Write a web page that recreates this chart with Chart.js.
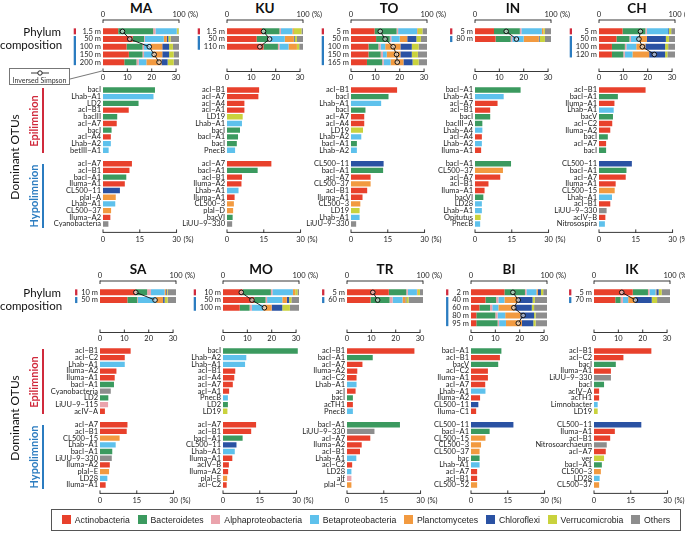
<!DOCTYPE html>
<html><head><meta charset="utf-8">
<script src="https://cdn.jsdelivr.net/npm/chart.js@4.4.1/dist/chart.umd.min.js"></script>
<style>
html,body{margin:0;padding:0;background:#fff;}
body{width:685px;height:534px;position:relative;overflow:hidden;font-family:Lato,"Open Sans",sans-serif;color:#222;}
canvas{position:absolute;}
.abs{position:absolute;white-space:nowrap;}
.title{font-weight:700;font-size:13.5px;text-align:center;width:80px;line-height:14px;color:#111;}
.pc{font-size:11.5px;line-height:13px;text-align:right;width:61px;left:0;color:#111;}
.rot{transform:translate(-50%,-50%) rotate(-90deg);}
#legend{left:51px;top:509px;width:630px;height:22px;border:1px solid #555;display:flex;align-items:center;justify-content:space-around;font-family:"Liberation Sans",Arial,sans-serif;font-size:8.7px;color:#222;box-sizing:border-box;padding:0 6px;}
#legend span.sq{display:inline-block;width:9px;height:9px;margin-right:4px;vertical-align:-1px;}
</style></head><body>
<script>
// ---------- data ----------
const PHYLA = ['Actinobacteria','Bacteroidetes','Alphaproteobacteria','Betaproteobacteria','Planctomycetes','Chloroflexi','Verrucomicrobia','Others'];
const PHYLUM_CODES = ['A','B','a','b','P','C','V','O'];
const PHYLUM_COLORS = ['#e8412c','#3b9a5f','#eaa3ac','#5ec1ec','#f29a40','#2a52a3','#c9d23d','#8d8d8d'];
const COMP_TICKS = [0,100];
const SIMPSON_TICKS = [0,10,20,30];
const OTU_TICKS = [0,15,30];

const MA_depths = ['1.5 m','50 m','100 m','150 m','200 m'];
const MA_comp = [[20,46,3,28,0.5,0,2,0.5],[39,15,1,25,4,2,3,11],[31,21,2,9,15,9,5,8],[34,18,2,11,13,9,6,7],[28,16,3,10,20,8,8,7]];
const MA_simpson = [8,11,19,21,23];
const MA_epi = ['bacI','Lhab−A1','LD2','acI−B1','bacIII','acI−A7','bacI','acI−A4','Lhab−A2','betIII−A1'];
const MA_epiV = [21.2,20.6,14.5,10.5,5.8,5.6,3.5,3.2,3.2,2.3];
const MA_epiP = ['B','b','B','A','B','A','B','A','b','b'];
const MA_hypo = ['acI−A7','acI−B1','bacI−A1','Iluma−A1','CL500−11','plaI−A','Lhab−A1','CL500−37','Iluma−A2','Cyanobacteria'];
const MA_hypoV = [11.8,10.8,9.5,8.9,6.9,5.2,5.0,3.3,3.0,2.2];
const MA_hypoP = ['A','A','B','A','C','P','b','P','A','O'];

const KU_depths = ['1.5 m','50 m','110 m'];
const KU_comp = [[46,23,2,15,2,0,10,2],[39,15,2,20,12,1,3,8],[48,19,2,12,11,0,3,5]];
const KU_simpson = [15,17.5,13.5];
const KU_epi = ['acI−B1','acI−A7','acI−A4','acI−A1','LD19','Lhab−A1','bacI','bacI−A1','bacI','PnecB'];
const KU_epiV = [13.1,12.8,7.1,7.1,6.4,6.1,5.3,4.5,4.0,3.3];
const KU_epiP = ['A','A','A','A','V','b','B','B','B','b'];
const KU_hypo = ['acI−A7','bacI−A1','acI−B1','Iluma−A2','Lhab−A1','Iluma−A1','CL500−3','plaI−D','bacVI','LiUU−9−330'];
const KU_hypoV = [18.1,12.5,6.1,5.9,4.7,3.1,2.8,2.5,2.3,2.1];
const KU_hypoP = ['A','B','A','A','b','A','P','P','B','O'];

const TO_depths = ['5 m','50 m','100 m','150 m','165 m'];
const TO_comp = [[31,29,2,25,1,0,6,6],[33,18,2,11,10,12,6,8],[23,13,3,6,20,15,9,11],[23,16,3,5,18,15,8,12],[21,20,2,9,17,12,8,11]];
const TO_simpson = [12,14,17.3,18.7,19];
const TO_epi = ['acI−B1','bacI','Lhab−A1','bacI','acI−A7','acI−A4','LD19','Lhab−A2','bacI−A1','Lhab−A2'];
const TO_epiV = [18.8,15.3,12.3,5.9,5.4,5.4,4.9,4.2,2.4,2.4];
const TO_epiP = ['A','B','b','B','A','A','V','b','B','b'];
const TO_hypo = ['CL500−11','bacI−A1','acI−A7','CL500−37','acI−B1','Iluma−A1','CL500−3','LD19','Lhab−A1','LiUU−9−330'];
const TO_hypoV = [13.3,13.1,8.0,8.0,6.6,4.7,3.8,3.5,3.5,2.1];
const TO_hypoP = ['C','B','A','P','A','A','P','V','b','O'];

const IN_depths = ['5 m','80 m'];
const IN_comp = [[25,34,2,27,2,0,2,8],[27,20,2,15,20,1,7,8]];
const IN_simpson = [12.8,17];
const IN_epi = ['bacI−A1','Lhab−A1','acI−A7','acI−B1','bacI','bacIII−A','Lhab−A4','acI−A4','Lhab−A2','Iluma−A1'];
const IN_epiV = [18.6,11.7,9.2,6.2,6.2,3.0,3.0,2.8,2.8,2.5];
const IN_epiP = ['B','b','A','A','B','B','b','A','b','A'];
const IN_hypo = ['bacI−A1','CL500−37','acI−A7','acI−B1','Iluma−A1','bacVI','LD28','Lhab−A1','Opitutus','PnecB'];
const IN_hypoV = [14.7,11.4,10.3,5.5,3.9,3.4,2.8,2.8,2.3,2.1];
const IN_hypoP = ['B','P','A','A','A','B','b','b','V','b'];

const CH_depths = ['5 m','50 m','100 m','120 m'];
const CH_comp = [[31,30,2,28,0,1,3,5],[23,17,2,11,10,25,4,8],[17,17,2,13,12,26,4,9],[17,15,2,10,22,21,3,10]];
const CH_simpson = [17,16.4,17.8,22.7];
const CH_epi = ['acI−B1','bacI−A1','Iluma−A1','Lhab−A1','bacV','acI−C2','Iluma−A2','bacI','acI−A7','bacI'];
const CH_epiV = [19.0,7.7,6.3,6.0,5.7,5.4,4.6,3.6,2.9,2.9];
const CH_epiP = ['A','B','A','b','B','A','A','B','A','B'];
const CH_hypo = ['CL500−11','bacI−A1','acI−A7','Iluma−A1','CL500−15','Lhab−A1','acI−B1','LiUU−9−330','acIV−B','Nitrosospira'];
const CH_hypoV = [13.4,11.2,10.9,6.8,6.4,5.3,4.6,3.1,2.6,2.4];
const CH_hypoP = ['C','B','A','A','P','b','A','O','A','b'];

const SA_depths = ['10 m','50 m'];
const SA_comp = [[47,15,5,18,2,1,1,11],[36,13,1,24,9,2,4,11]];
const SA_simpson = [14.7,22.6];
const SA_epi = ['acI−B1','acI−C2','Lhab−A1','Iluma−A2','Iluma−A1','bacI−A1','Cyanobacteria','LD2','LiUU−9−115','acIV−A'];
const SA_epiV = [12.5,10.1,10.1,6.7,6.0,5.7,4.4,3.4,3.3,2.0];
const SA_epiP = ['A','A','b','A','A','B','O','B','a','A'];
const SA_hypo = ['acI−A7','acI−B1','CL500−15','Lhab−A1','bacI−A1','LiUU−9−330','Iluma−A2','plaI−E','LD28','Iluma−A1'];
const SA_hypoV = [11.2,10.9,8.0,6.4,5.0,4.8,4.0,3.7,3.0,2.3];
const SA_hypoP = ['A','A','P','b','B','O','A','P','b','A'];

const MO_depths = ['10 m','50 m','100 m'];
const MO_comp = [[26,37,2,27,3,0,3,2],[41,15,2,20,6,3,3,10],[22,13,3,15,11,14,10,12]];
const MO_simpson = [7.5,11.9,17];
const MO_epi = ['bacI','Lhab−A2','Lhab−A1','acI−B1','acI−A4','acI−A7','acI−A1','PnecB','LD2','LD19'];
const MO_epiV = [30.5,9.5,9.0,5.0,4.6,4.0,2.5,2.0,2.0,1.8];
const MO_epiP = ['B','b','b','A','A','A','A','b','B','V'];
const MO_hypo = ['acI−A7','acI−B1','bacI−A1','CL500−11','Lhab−A1','Iluma−A1','acIV−B','Iluma−A2','plaI−E','acI−C2'];
const MO_hypoV = [13.5,11.5,8.0,5.5,4.8,3.8,2.4,2.1,1.7,1.5];
const MO_hypoP = ['A','A','B','C','b','A','A','A','P','A'];

const TR_depths = ['5 m','60 m'];
const TR_comp = [[55,23,2,12,1,0,3,4],[31,25,4,13,4,1,3,19]];
const TR_simpson = [10.6,12.6];
const TR_epi = ['acI−B1','bacI−A1','acI−A7','Iluma−A2','acI−C2','Lhab−A1','acI','bacI','acTH1','PnecB'];
const TR_epiV = [27.5,10.5,6.3,4.2,3.9,3.9,3.5,2.4,2.4,2.4];
const TR_epiP = ['A','B','A','A','A','b','A','B','A','b'];
const TR_hypo = ['bacI−A1','LiUU−9−330','acI−A7','Iluma−A2','acI−B1','Lhab−A1','acI−C2','LD28','alf','plaI−C'];
const TR_hypoV = [21.6,11.2,9.5,6.0,5.3,3.8,2.1,1.8,1.8,1.8];
const TR_hypoP = ['B','O','A','A','A','b','A','b','a','P'];

const BI_depths = ['2 m','40 m','60 m','80 m','95 m'];
const BI_comp = [[44,27,2,13,2,4,3,5],[19,14,3,8,18,19,3,16],[11,14,3,8,22,22,3,17],[7,25,3,10,20,18,2,15],[7,28,2,9,21,15,3,15]];
const BI_simpson = [17.2,19.4,17.6,21.4,19.4];
const BI_epi = ['bacI−A1','acI−B1','bacV','acI−C2','Iluma−A1','acI−A7','Lhab−A1','Iluma−A2','CL500−11','Iluma−C1'];
const BI_epiV = [12.4,11.8,11.1,6.9,6.9,5.8,5.9,3.7,3.0,2.1];
const BI_epiP = ['B','A','B','A','A','A','b','A','C','A'];
const BI_hypo = ['CL500−11','bacI−A1','CL500−15','CL500−3','CL500−37','bac','Lhab−A1','acI−A7','acI−B1','CL500−52'];
const BI_hypoV = [17.3,7.6,5.9,4.1,3.5,3.5,3.5,2.5,2.5,2.5];
const BI_hypoP = ['C','B','P','P','P','B','b','A','A','P'];

const IK_depths = ['5 m','70 m'];
const IK_comp = [[51,20,2,8,1,3,4,11],[28,7,3,7,9,22,7,17]];
const IK_simpson = [11.4,17];
const IK_epi = ['acI−B1','acI−C2','bacI','Iluma−A1','LiUU−9−330','bacI','acIV−A','acTH1','Limnobacter','LD19'];
const IK_epiV = [23.4,12.0,8.9,6.9,6.9,4.1,2.1,2.1,1.5,1.5];
const IK_epiP = ['A','A','B','A','O','B','A','A','b','V'];
const IK_hypo = ['CL500−11','Iluma−A1','acI−B1','Nitrosoarchaeum','acI−A7','ver','bacI−A1','CL500−3','LD28','CL500−37'];
const IK_hypoV = [19.3,8.5,6.6,5.2,4.8,4.1,3.2,2.8,2.3,2.1];
const IK_hypoP = ['C','A','A','O','A','V','B','P','b','P'];

const LAKES = [
 {name:'MA',depths:MA_depths,comp:MA_comp,simpson:MA_simpson,epi:MA_epi,epiV:MA_epiV,epiP:MA_epiP,hypo:MA_hypo,hypoV:MA_hypoV,hypoP:MA_hypoP},
 {name:'KU',depths:KU_depths,comp:KU_comp,simpson:KU_simpson,epi:KU_epi,epiV:KU_epiV,epiP:KU_epiP,hypo:KU_hypo,hypoV:KU_hypoV,hypoP:KU_hypoP},
 {name:'TO',depths:TO_depths,comp:TO_comp,simpson:TO_simpson,epi:TO_epi,epiV:TO_epiV,epiP:TO_epiP,hypo:TO_hypo,hypoV:TO_hypoV,hypoP:TO_hypoP},
 {name:'IN',depths:IN_depths,comp:IN_comp,simpson:IN_simpson,epi:IN_epi,epiV:IN_epiV,epiP:IN_epiP,hypo:IN_hypo,hypoV:IN_hypoV,hypoP:IN_hypoP},
 {name:'CH',depths:CH_depths,comp:CH_comp,simpson:CH_simpson,epi:CH_epi,epiV:CH_epiV,epiP:CH_epiP,hypo:CH_hypo,hypoV:CH_hypoV,hypoP:CH_hypoP},
 {name:'SA',depths:SA_depths,comp:SA_comp,simpson:SA_simpson,epi:SA_epi,epiV:SA_epiV,epiP:SA_epiP,hypo:SA_hypo,hypoV:SA_hypoV,hypoP:SA_hypoP},
 {name:'MO',depths:MO_depths,comp:MO_comp,simpson:MO_simpson,epi:MO_epi,epiV:MO_epiV,epiP:MO_epiP,hypo:MO_hypo,hypoV:MO_hypoV,hypoP:MO_hypoP},
 {name:'TR',depths:TR_depths,comp:TR_comp,simpson:TR_simpson,epi:TR_epi,epiV:TR_epiV,epiP:TR_epiP,hypo:TR_hypo,hypoV:TR_hypoV,hypoP:TR_hypoP},
 {name:'BI',depths:BI_depths,comp:BI_comp,simpson:BI_simpson,epi:BI_epi,epiV:BI_epiV,epiP:BI_epiP,hypo:BI_hypo,hypoV:BI_hypoV,hypoP:BI_hypoP},
 {name:'IK',depths:IK_depths,comp:IK_comp,simpson:IK_simpson,epi:IK_epi,epiV:IK_epiV,epiP:IK_epiP,hypo:IK_hypo,hypoV:IK_hypoV,hypoP:IK_hypoP}
];

// ---------- layout (not data) ----------
const POS = [[103,0],[227,0],[351,0],[475,0],[599,0],[100,261],[223,261],[347,261],[471,261],[594,261]];
const W = 76;
const EPI_RED = '#d02a3c', HYPO_BLUE = '#2b7cc0';
const FONT = 'Lato, "Open Sans", sans-serif';
const TICKFONT = {size:7.5, family:FONT};

Chart.defaults.font.family = FONT;
Chart.defaults.color = '#222';

function colorOf(code){ return PHYLUM_COLORS[PHYLUM_CODES.indexOf(code)]; }
function fixTicks(list){ return s => { s.ticks = list.map(v=>({value:v})); }; }

function addText(html, cls, style){
  const d = document.createElement('div');
  d.className = 'abs ' + cls; d.innerHTML = html;
  Object.assign(d.style, style); document.body.appendChild(d); return d;
}
function makeCanvas(left, top, w, h){
  const cv = document.createElement('canvas');
  cv.width = w; cv.height = h;
  cv.style.left = left+'px'; cv.style.top = top+'px';
  cv.style.width = w+'px'; cv.style.height = h+'px';
  document.body.appendChild(cv); return cv;
}

const phylumDeco = {
  id:'phylumDeco',
  afterDraw(chart){
    const {ctx, chartArea:ca} = chart;
    const x = chart.scales.x, x2 = chart.scales.x2, y = chart.scales.y;
    const n = chart.$nDepth;
    ctx.save();
    ctx.strokeStyle = '#222'; ctx.lineWidth = 0.9;
    ctx.beginPath();
    const yt = ca.top - 7.5;
    ctx.moveTo(x.getPixelForValue(0), yt); ctx.lineTo(x.getPixelForValue(100), yt);
    COMP_TICKS.forEach(v=>{const p=x.getPixelForValue(v); ctx.moveTo(p,yt-0.45); ctx.lineTo(p,yt+3);});
    const yb = ca.bottom + 5.5;
    ctx.moveTo(x2.getPixelForValue(0), yb); ctx.lineTo(x2.getPixelForValue(30), yb);
    SIMPSON_TICKS.forEach(v=>{const p=x2.getPixelForValue(v); ctx.moveTo(p,yb+0.45); ctx.lineTo(p,yb-3);});
    ctx.stroke();
    ctx.font = '7.5px ' + FONT; ctx.fillStyle = '#222';
    ctx.textBaseline = 'middle'; ctx.textAlign = 'left';
    ctx.fillText('(%)', x.getPixelForValue(100) + ctx.measureText('100').width/2 + 2.5, ca.top - 12.5);
    // depth indicator
    const maxW = Math.max(...chart.data.labels.map(l=>ctx.measureText(l).width));
    const xi = ca.left - 2 - maxW - 5;
    const slot = y.getPixelForValue(1) - y.getPixelForValue(0);
    const half = slot*0.78/2;
    ctx.lineWidth = 2.3; ctx.lineCap = 'butt';
    ctx.strokeStyle = EPI_RED; ctx.beginPath();
    ctx.moveTo(xi, y.getPixelForValue(0)-half); ctx.lineTo(xi, y.getPixelForValue(0)+half); ctx.stroke();
    if (n > 1){
      ctx.strokeStyle = HYPO_BLUE; ctx.beginPath();
      ctx.moveTo(xi, y.getPixelForValue(1)-half); ctx.lineTo(xi, y.getPixelForValue(n-1)+half); ctx.stroke();
    }
    ctx.restore();
  }
};

const otuDeco = {
  id:'otuDeco',
  afterDraw(chart){
    const {ctx, chartArea:ca} = chart;
    const x = chart.scales.x;
    ctx.save();
    ctx.strokeStyle = '#222'; ctx.lineWidth = 0.9;
    const yb = ca.bottom + 5;
    ctx.beginPath();
    ctx.moveTo(x.getPixelForValue(0), yb); ctx.lineTo(x.getPixelForValue(30), yb);
    OTU_TICKS.forEach(v=>{const p=x.getPixelForValue(v); ctx.moveTo(p,yb+0.45); ctx.lineTo(p,yb-3);});
    ctx.stroke();
    ctx.font = '7.5px ' + FONT; ctx.fillStyle = '#222';
    ctx.textBaseline = 'middle'; ctx.textAlign = 'left';
    ctx.fillText('(%)', x.getPixelForValue(30) + ctx.measureText('30').width/2 + 2.5, ca.bottom + 8.1 + 4.5);
    ctx.restore();
  }
};

function phylumChart(lake, L, rowY){
  const cv = makeCanvas(L-60, rowY+6, 60+W+30, 80);
  const n = lake.depths.length;
  const labels = lake.depths.concat(Array(5-n).fill(''));
  const datasets = PHYLA.map((p,i)=>({
    type:'bar', label:p, data: lake.comp.map(r=>r[i]),
    backgroundColor: PHYLUM_COLORS[i], xAxisID:'x', yAxisID:'y',
    barPercentage:0.78, categoryPercentage:1, borderWidth:0, order:1
  }));
  datasets.push({type:'line', label:'Inversed Simpson', data: lake.simpson, xAxisID:'x2', yAxisID:'y',
    borderColor:'#111', borderWidth:0.9, pointRadius:2.3, pointBackgroundColor:'rgba(255,255,255,0.55)',
    pointBorderColor:'#111', pointBorderWidth:1, tension:0, order:0, clip:false});
  const ch = new Chart(cv, {type:'bar', data:{labels, datasets}, plugins:[phylumDeco], options:{
    indexAxis:'y', responsive:false, animation:false, devicePixelRatio:1,
    layout:{padding:{left:0,right:30,top:0,bottom:0}},
    plugins:{legend:{display:false}, tooltip:{enabled:false}},
    scales:{
      x:{position:'top', stacked:true, min:0, max:100,
         grid:{display:false, drawTicks:false}, border:{display:false},
         ticks:{autoSkip:false, maxRotation:0, padding:8, font:TICKFONT, color:'#222'},
         afterBuildTicks:fixTicks(COMP_TICKS),
         afterFit:s=>{s.height=21.5;}},
      x2:{position:'bottom', type:'linear', min:0, max:31.2,
         grid:{display:false, drawTicks:false}, border:{display:false},
         ticks:{autoSkip:false, maxRotation:0, padding:7, font:TICKFONT, color:'#222'},
         afterBuildTicks:fixTicks(SIMPSON_TICKS),
         afterFit:s=>{s.height=20;}},
      y:{stacked:true, grid:{display:false, drawTicks:false}, border:{display:false},
         ticks:{autoSkip:false, padding:2, font:TICKFONT, color:'#222'},
         afterFit:s=>{s.width=60;}}
    }
  }});
  ch.$nDepth = n; ch.draw();
}

function otuChart(lake, L, rowY){
  const cv = makeCanvas(L-70, rowY+80, 70+W+25, 172);
  const labels = lake.epi.concat([''], lake.hypo);
  const data = lake.epiV.concat([null], lake.hypoV);
  const colors = lake.epiP.concat(['O'], lake.hypoP).map(colorOf);
  new Chart(cv, {type:'bar', data:{labels, datasets:[{label:lake.name, data, backgroundColor:colors,
      barPercentage:0.8, categoryPercentage:1, borderWidth:0}]}, plugins:[otuDeco], options:{
    indexAxis:'y', responsive:false, animation:false, devicePixelRatio:1,
    layout:{padding:{left:0,right:25,top:6.6,bottom:0}},
    plugins:{legend:{display:false}, tooltip:{enabled:false}},
    scales:{
      x:{position:'bottom', min:0, max:31,
         grid:{display:false, drawTicks:false}, border:{display:false},
         ticks:{autoSkip:false, maxRotation:0, padding:8.1, font:TICKFONT, color:'#222'},
         afterBuildTicks:fixTicks(OTU_TICKS),
         afterFit:s=>{s.height=24.6;}},
      y:{grid:{display:false, drawTicks:false}, border:{display:false},
         ticks:{autoSkip:false, padding:2, font:TICKFONT, color:'#222'},
         afterFit:s=>{s.width=70;}}
    }
  }});
}

LAKES.forEach((lake,i)=>{
  const [L,rowY] = POS[i];
  addText(lake.name, 'title', {left:(L+W/2-40)+'px', top:(rowY+1)+'px'});
  phylumChart(lake, L, rowY);
  otuChart(lake, L, rowY);
});

// left side labels for both rows
[0,261].forEach(rowY=>{
  addText('Phylum<br>composition','pc',{top:(rowY+25)+'px'});
  addText('Dominant OTUs','rot',{left:'14px', top:(rowY+157)+'px', fontSize:'12px', color:'#111'});
  addText('Epilimnion','rot',{left:'33px', top:(rowY+121)+'px', fontSize:'11px', fontWeight:'700', color:EPI_RED});
  addText('Hypolimnion','rot',{left:'33px', top:(rowY+196)+'px', fontSize:'11px', fontWeight:'700', color:HYPO_BLUE});
  addText('','',{left:'41.5px', top:(rowY+88)+'px', width:'2.3px', height:'65px', background:EPI_RED});
  addText('','',{left:'41.5px', top:(rowY+164)+'px', width:'2.3px', height:'64px', background:HYPO_BLUE});
});

// Inversed Simpson key box
addText('<svg width="20" height="6" style="display:block;margin:1px auto 0"><line x1="1" y1="3" x2="19" y2="3" stroke="#222" stroke-width="0.9"/><circle cx="10" cy="3" r="2.2" fill="#fff" stroke="#222" stroke-width="1"/></svg><div style="font-size:7px;line-height:8px;text-align:center;color:#333">Inversed Simpson</div>','',
  {left:'9px', top:'68px', width:'61px', height:'17px', border:'0.8px solid #777', boxSizing:'border-box', background:'#fff'});
const svgNS = 'http://www.w3.org/2000/svg';
const conn = document.createElementNS(svgNS,'svg');
conn.setAttribute('width','685'); conn.setAttribute('height','100');
conn.style.position='absolute'; conn.style.left='0'; conn.style.top='0';
conn.innerHTML = '<line x1="70" y1="79" x2="102" y2="71" stroke="#555" stroke-width="0.8"/>';
document.body.appendChild(conn);

// legend
const lg = addText('', '', {}); lg.id = 'legend';
PHYLA.forEach((p,i)=>{
  const it = document.createElement('span');
  it.innerHTML = '<span class="sq" style="background:'+PHYLUM_COLORS[i]+'"></span>'+p;
  lg.appendChild(it);
});
</script>
</body></html>
